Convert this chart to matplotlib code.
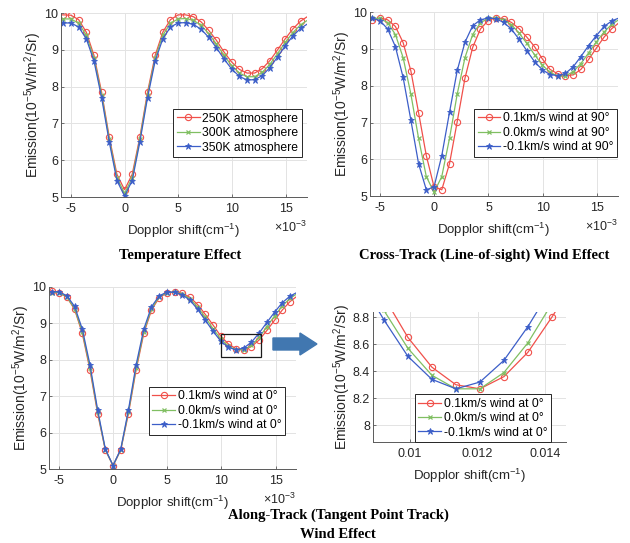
import matplotlib
matplotlib.use('Agg')
import matplotlib.pyplot as plt
from matplotlib.patches import Rectangle, FancyArrow
from matplotlib.ticker import FormatStrFormatter

plt.rcParams['font.family'] = ['Liberation Sans', 'DejaVu Sans']
plt.rcParams['mathtext.default'] = 'regular'
plt.rcParams['axes.unicode_minus'] = False

# Doppler shift in units of 1e-3 cm^-1 (first and last points are the curve ends, no marker)
doppler = [-5.9, -5.68, -4.97, -4.26, -3.55, -2.84, -2.13, -1.42, -0.71, 0.0, 0.71, 1.42,
           2.13, 2.84, 3.55, 4.26, 4.97, 5.68, 6.39, 7.10, 7.81, 8.52, 9.23, 9.94, 10.65,
           11.36, 12.07, 12.78, 13.49, 14.20, 14.91, 15.62, 16.33, 16.9]

# Temperature effect
temp_250 = [9.95, 9.95, 9.94, 9.82, 9.48, 8.85, 7.85, 6.63, 5.62, 5.20, 5.62, 6.63, 7.85, 8.85,
            9.48, 9.82, 9.95, 9.95, 9.90, 9.76, 9.53, 9.26, 8.94, 8.67, 8.47, 8.37, 8.37, 8.49,
            8.71, 9.00, 9.30, 9.57, 9.78, 9.89]
temp_300 = [9.84, 9.84, 9.84, 9.72, 9.40, 8.77, 7.78, 6.57, 5.53, 5.10, 5.53, 6.57, 7.78, 8.77,
            9.40, 9.72, 9.84, 9.85, 9.80, 9.67, 9.44, 9.16, 8.85, 8.57, 8.37, 8.27, 8.27, 8.39,
            8.61, 8.90, 9.20, 9.47, 9.68, 9.79]
temp_350 = [9.73, 9.73, 9.73, 9.62, 9.30, 8.70, 7.70, 6.50, 5.45, 5.03, 5.45, 6.50, 7.70, 8.70,
            9.30, 9.62, 9.73, 9.74, 9.69, 9.56, 9.34, 9.06, 8.75, 8.48, 8.28, 8.18, 8.19, 8.30,
            8.52, 8.81, 9.11, 9.38, 9.58, 9.69]

# Cross-track (line-of-sight) wind
cross_pos = [9.78, 9.80, 9.85, 9.80, 9.62, 9.18, 8.41, 7.27, 6.10, 5.25, 5.17, 5.88, 7.03, 8.21,
             9.05, 9.55, 9.78, 9.86, 9.83, 9.73, 9.56, 9.33, 9.07, 8.74, 8.45, 8.33, 8.28, 8.30,
             8.45, 8.72, 9.03, 9.33, 9.56, 9.70]
cross_zero = temp_300
cross_neg = [9.83, 9.84, 9.78, 9.55, 9.07, 8.23, 7.07, 5.88, 5.17, 5.25, 6.10, 7.28, 8.42, 9.19,
             9.64, 9.80, 9.85, 9.83, 9.73, 9.55, 9.27, 8.96, 8.66, 8.44, 8.31, 8.28, 8.34, 8.52,
             8.80, 9.10, 9.37, 9.62, 9.77, 9.84]

# Along-track (tangent point track) wind
along_pos = [9.88, 9.89, 9.84, 9.71, 9.38, 8.72, 7.72, 6.52, 5.52, 5.10, 5.52, 6.52, 7.72, 8.72,
             9.36, 9.70, 9.83, 9.86, 9.82, 9.71, 9.51, 9.24, 8.95, 8.65, 8.43, 8.30, 8.27, 8.36,
             8.54, 8.80, 9.08, 9.36, 9.59, 9.72]
along_zero = temp_300
along_neg = [9.85, 9.86, 9.86, 9.75, 9.46, 8.84, 7.86, 6.62, 5.55, 5.10, 5.55, 6.62, 7.86, 8.84,
             9.45, 9.75, 9.85, 9.85, 9.78, 9.63, 9.38, 9.08, 8.78, 8.51, 8.34, 8.27, 8.32, 8.48,
             8.73, 9.02, 9.30, 9.56, 9.74, 9.83]

temp_labels = ['250K atmosphere', '300K atmosphere', '350K atmosphere']
cross_labels = ['0.1km/s wind at 90°', '0.0km/s wind at 90°', '-0.1km/s wind at 90°']
along_labels = ['0.1km/s wind at 0°', '0.0km/s wind at 0°', '-0.1km/s wind at 0°']

TEXT = '#262626'
STYLES = [dict(color='#f0504a', marker='o', mfc='none', ms=4.5, mew=0.8),
          dict(color='#80bf62', marker='x', ms=3.2, mew=0.9),
          dict(color='#3c5ec8', marker='*', ms=5, mew=0.6)]


def draw_panel(ax, x, series, labels, anchor, scale=1.0):
    """Draw the three curves, grid, spines and legend of one panel."""
    xs = [v * scale for v in x]
    for ys, label, style in zip(series, labels, STYLES):
        ax.plot(xs, ys, lw=0.9, label=label, markevery=slice(1, len(xs) - 1), **style)
    ax.grid(True, color='#e3e3e3', lw=0.7)
    ax.set_axisbelow(True)
    for side in ['top', 'right']:
        ax.spines[side].set_visible(False)
    for side in ['left', 'bottom']:
        ax.spines[side].set_color('#5a5a5a')
        ax.spines[side].set_linewidth(0.7)
    ax.tick_params(direction='in', length=2, width=0.6, colors='#5a5a5a',
                   labelcolor=TEXT, labelsize=9, pad=4)
    ax.tick_params(axis='y', pad=2)
    ax.set_ylabel(r'Emission(10$^{-5}$W/m$^2$/Sr)', fontsize=10, color=TEXT, labelpad=0)
    ax.set_xlabel(r'Dopplor shift(cm$^{-1}$)', fontsize=9.5, color=TEXT, labelpad=5)
    leg = ax.legend(loc='lower right', bbox_to_anchor=anchor, fontsize=8.7, frameon=True,
                    fancybox=False, framealpha=1, edgecolor=TEXT, borderpad=0.3,
                    labelspacing=0.2, handlelength=1.9, handletextpad=0.2, borderaxespad=0)
    leg.get_frame().set_linewidth(0.7)


def add_exponent(ax):
    ax.annotate(r'$\times$10$^{-3}$', xy=(1, 0), xycoords='axes fraction', xytext=(0, -22),
                textcoords='offset points', ha='right', va='center', fontsize=9, color=TEXT)


fig = plt.figure(figsize=(6.3, 5.43), dpi=100)

ax1 = fig.add_axes([0.0968, 0.637, 0.390, 0.339])
ax2 = fig.add_axes([0.587, 0.639, 0.394, 0.338])
ax3 = fig.add_axes([0.078, 0.136, 0.392, 0.336])
ax4 = fig.add_axes([0.5916, 0.1855, 0.307, 0.2405])

draw_panel(ax1, doppler, [temp_250, temp_300, temp_350], temp_labels, (0.98, 0.217))
draw_panel(ax2, doppler, [cross_pos, cross_zero, cross_neg], cross_labels, (0.996, 0.213))
draw_panel(ax3, doppler, [along_pos, along_zero, along_neg], along_labels, (0.955, 0.188))
draw_panel(ax4, doppler, [along_pos, along_zero, along_neg], along_labels, (0.922, 0.0),
           scale=1e-3)

for ax in [ax1, ax2, ax3]:
    ax.set_xlim(-5.9, 16.9)
    ax.set_ylim(5, 10)
    ax.set_xticks([-5, 0, 5, 10, 15])
    ax.set_yticks([5, 6, 7, 8, 9, 10])
    add_exponent(ax)

ax4.set_xlim(0.0089, 0.01462)
ax4.set_ylim(7.875, 8.84)
ax4.set_xticks([0.01, 0.012, 0.014])
ax4.set_yticks([8, 8.2, 8.4, 8.6, 8.8])
ax4.xaxis.set_major_formatter(FormatStrFormatter('%g'))
ax4.yaxis.set_major_formatter(FormatStrFormatter('%g'))

# Zoom box on the along-track panel and the arrow pointing to the inset
ax3.add_patch(Rectangle((9.94, 8.08), 3.7, 0.63, fill=False, ec='#1a1a1a', lw=0.9, zorder=5))
fig.add_artist(FancyArrow(0.4333, 0.3665, 0.0698, 0, width=0.0221, head_width=0.0405,
                          head_length=0.027, length_includes_head=True,
                          color='#4177b0', transform=fig.transFigure))

title_font = dict(family=['Liberation Serif', 'DejaVu Serif'], fontweight='bold',
                  fontsize=10.5, color='black', ha='center', va='center')
fig.text(180 / 630, 1 - 255 / 543, 'Temperature Effect', **title_font)
fig.text(484 / 630, 1 - 255 / 543, 'Cross-Track (Line-of-sight) Wind Effect', **title_font)
fig.text(338 / 630, 1 - 515 / 543, 'Along-Track (Tangent Point Track)', **title_font)
fig.text(338 / 630, 1 - 534 / 543, 'Wind Effect', **title_font)

fig.savefig('out.png', dpi=100)
